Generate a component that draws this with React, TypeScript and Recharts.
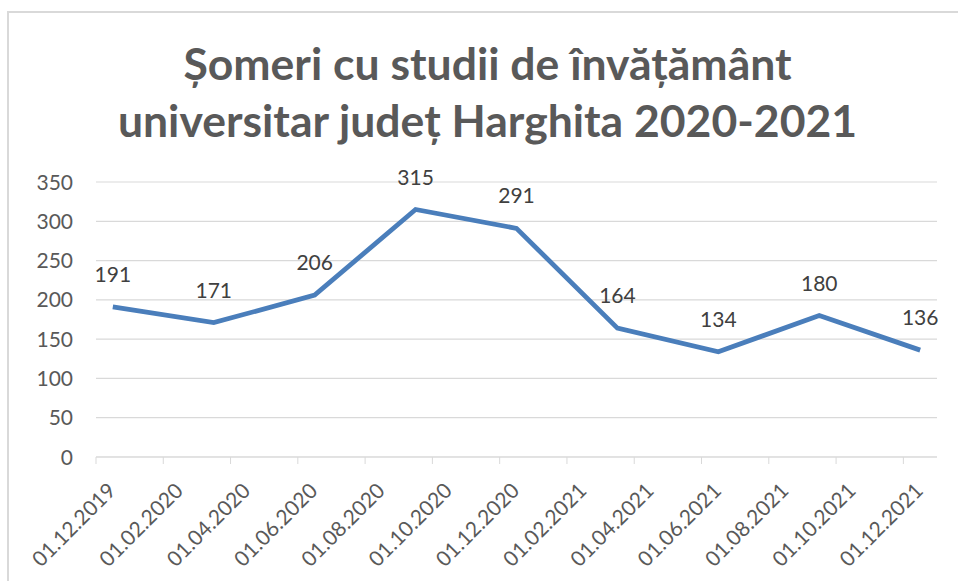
import { LineChart, Line, XAxis, YAxis, CartesianGrid, LabelList } from "recharts";

// quarterly values, month "mm.yyyy"
const periods = ["12.2019", "03.2020", "06.2020", "09.2020", "12.2020", "03.2021", "06.2021", "09.2021", "12.2021"];
const unemployed = [191, 171, 206, 315, 291, 164, 134, 180, 136];

const axisLabels = [
    "01.12.2019", "01.02.2020", "01.04.2020", "01.06.2020", "01.08.2020", "01.10.2020", "01.12.2020",
    "01.02.2021", "01.04.2021", "01.06.2021", "01.08.2021", "01.10.2021", "01.12.2021",
];
const yTicks = [0, 50, 100, 150, 200, 250, 300, 350];

const titleLines = ["Șomeri cu studii de învățământ", "universitar județ Harghita 2020-2021"];

// months counted from 12.2019
function monthIndex(mmyyyy: string) {
    const [m, y] = mmyyyy.split(".").map(Number);
    return (y - 2019) * 12 + (m - 12);
}

const data = periods.map((p, i) => ({ month: monthIndex(p) + 0.5, value: unemployed[i] }));
const xTicks = axisLabels.map((l) => monthIndex(l.slice(3)));
const labelFor = (v: number) => axisLabels[xTicks.indexOf(v)] ?? "";

const FONT = "Lato, 'Open Sans', sans-serif";
const GRID = "#d9d9d9";

function XTick({ x, y, payload }: any) {
    const ax = x + 21;
    const ay = y + 26;
    return (
        <text x={ax} y={ay} transform={`rotate(-45, ${ax}, ${ay})`} textAnchor="end"
            fontSize={21} fill="#595959" fontFamily={FONT}>
            {labelFor(payload.value)}
        </text>
    );
}

function YTick({ y, payload }: any) {
    return (
        <text x={73} y={y + 7.5} textAnchor="end" fontSize={21} fill="#595959" fontFamily={FONT}>
            {payload.value}
        </text>
    );
}

function ValueLabel({ x, y, value }: any) {
    return (
        <text x={x} y={y - 25} textAnchor="middle" fontSize={21} fill="#404040" fontFamily={FONT}>
            {value}
        </text>
    );
}

export default function App() {
    return (
        <div style={{ position: "absolute", left: 0, top: 0, width: 958, height: 581, background: "#fff" }}>
            <div style={{
                position: "absolute", left: 7, top: 11, width: 1000, height: 620,
                border: `2px solid ${GRID}`,
            }} />
            <svg width={958} height={160} style={{ position: "absolute", left: 0, top: 0 }}>
                {titleLines.map((t, i) => (
                    <text key={t} x={487.5} y={80 + i * 57} textAnchor="middle" fontSize={44.5}
                        fontWeight="bold" fill="#595959" fontFamily={FONT}>
                        {t}
                    </text>
                ))}
            </svg>
            <div style={{ position: "absolute", left: 0, top: 0 }}>
                <LineChart width={958} height={581} data={data}
                    margin={{ top: 182, right: 21, left: 0, bottom: 0 }}>
                    <CartesianGrid vertical={false} stroke={GRID} strokeWidth={1.2} />
                    <XAxis
                        dataKey="month"
                        type="number"
                        domain={[0, 25]}
                        ticks={xTicks}
                        interval={0}
                        height={124}
                        stroke={GRID}
                        tickSize={7}
                        tick={<XTick />}
                    />
                    <YAxis
                        domain={[0, 350]}
                        ticks={yTicks}
                        width={96}
                        axisLine={false}
                        tickLine={false}
                        tick={<YTick />}
                    />
                    <Line
                        type="linear"
                        dataKey="value"
                        stroke="#4a7ebb"
                        strokeWidth={4.8}
                        dot={false}
                        activeDot={false}
                        isAnimationActive={false}
                    >
                        <LabelList dataKey="value" content={<ValueLabel />} />
                    </Line>
                </LineChart>
            </div>
        </div>
    );
}
